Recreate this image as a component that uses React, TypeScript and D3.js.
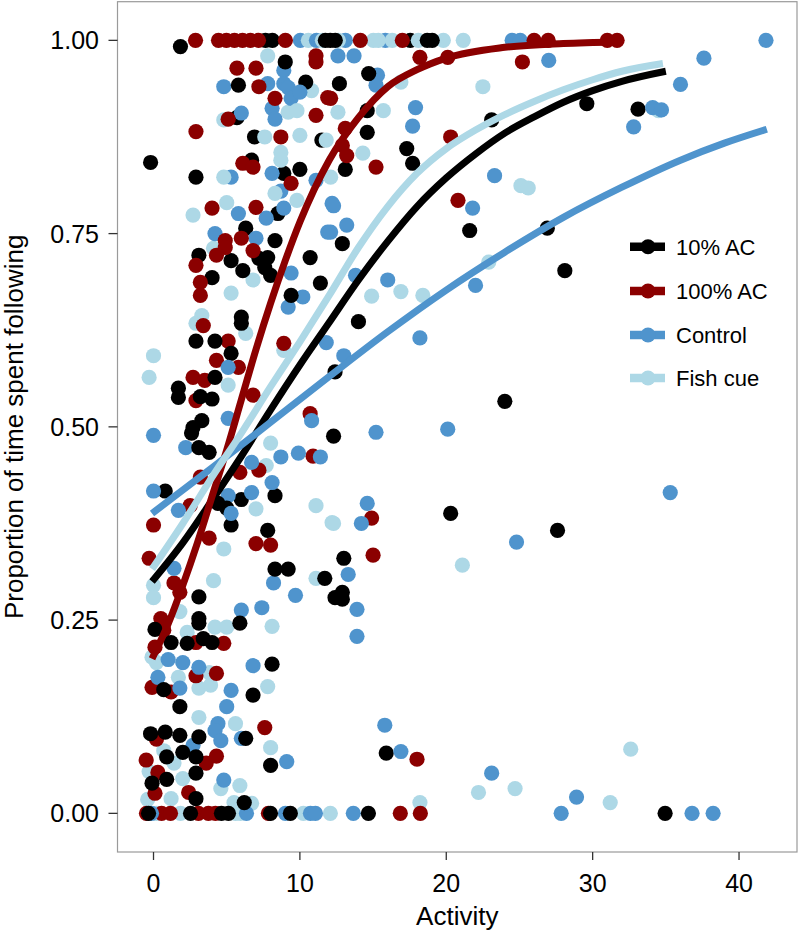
import * as d3 from 'd3';

// groups, in legend order
const groups = ['10% AC', '100% AC', 'Control', 'Fish cue'];
const groupColors = ['#000000', '#8B0000', '#4F94CD', '#ADD8E6'];

// [activity, proportion]
const ac10Points: [number, number][] = [
  [1.84, 0.992], [7.65, 1], [8.12, 1], [11.74, 1], [12.42, 1], [12.08, 1], [17.54, 1], [18.7, 1], [19.04, 1],
  [9.0, 0.972], [5.8, 0.942], [10.4, 0.946], [5.7, 0.9], [6.9, 0.875], [11.5, 0.871], [-0.2, 0.842], [6.7, 0.845],
  [2.9, 0.823], [8.9, 0.828], [10.0, 0.833], [8.5, 0.776], [6.3, 0.757], [8.3, 0.741], [3.1, 0.722], [5.3, 0.715],
  [7.2, 0.718], [7.8, 0.719], [7.6, 0.706], [8.0, 0.696], [10.7, 0.719], [6.1, 0.702], [4.0, 0.693], [11.4, 0.686],
  [9.4, 0.67], [6.0, 0.642],
  [12.7, 0.944], [14.7, 0.957], [14.6, 0.909], [23.1, 0.897], [14.6, 0.881], [17.3, 0.86], [17.7, 0.841], [13.1, 0.833],
  [21.6, 0.754], [12.9, 0.737], [26.9, 0.757], [28.1, 0.702], [14.0, 0.636], [12.4, 0.571], [24.0, 0.533], [12.3, 0.488],
  [29.6, 0.918], [33.1, 0.911],
  [6.0, 0.634], [2.9, 0.611], [4.2, 0.611], [5.3, 0.595], [4.2, 0.564], [1.7, 0.55], [1.7, 0.538], [3.2, 0.539],
  [4.0, 0.536], [3.3, 0.508], [2.7, 0.499], [2.6, 0.492], [3.1, 0.473], [3.8, 0.467], [8.3, 0.411], [6.0, 0.406],
  [0.8, 0.417], [4.4, 0.401], [5.0, 0.395], [5.3, 0.373], [7.8, 0.366], [8.3, 0.316], [9.2, 0.316], [11.7, 0.304],
  [12.4, 0.279], [3.1, 0.28], [3.1, 0.252],
  [12.9, 0.286], [12.9, 0.277], [13.0, 0.33], [20.3, 0.388], [27.6, 0.366], [15.9, 0.078],
  [0.1, 0.238], [3.1, 0.246], [5.9, 0.246], [1.2, 0.221], [2.3, 0.22], [3.4, 0.226], [4.0, 0.221], [8.1, 0.193],
  [0.7, 0.16], [6.8, 0.153], [1.8, 0.138], [-0.2, 0.103], [0.8, 0.105], [1.8, 0.101], [3.1, 0.099], [6.3, 0.097],
  [2.0, 0.079], [0.9, 0.073], [2.9, 0.073], [2.9, 0.052], [8.0, 0.062], [-0.1, 0.039], [0.9, 0.044], [2.9, 0.019],
  [6.2, 0.014],
  [-0.34, 0], [2.53, 0], [4.64, 0], [5.12, 0], [7.99, 0], [9.35, 0], [14.68, 0], [34.95, 0],
];

const ac100Points: [number, number][] = [
  [2.87, 1], [4.44, 1], [4.98, 1], [5.53, 1], [6.08, 1], [6.62, 1], [7.17, 1], [9.01, 1], [14.13, 1], [17.0, 1],
  [26.0, 1], [26.96, 1], [31.0, 1], [31.67, 1],
  [11.1, 0.98], [11.1, 0.972], [5.7, 0.964], [7.0, 0.964], [7.2, 0.94], [8.3, 0.925], [11.9, 0.926], [11.1, 0.903],
  [5.1, 0.898], [2.9, 0.882], [8.7, 0.875], [6.1, 0.841], [6.8, 0.836], [9.4, 0.815], [4.0, 0.783], [7.0, 0.784],
  [4.9, 0.741], [4.9, 0.732], [6.0, 0.744], [2.9, 0.709], [4.3, 0.722], [6.8, 0.728], [3.2, 0.687], [3.2, 0.67],
  [18.2, 0.978], [20.1, 0.978], [25.2, 0.972], [12.1, 0.925], [13.1, 0.886], [20.3, 0.875], [12.9, 0.864],
  [13.2, 0.851], [15.2, 0.836], [20.8, 0.793],
  [3.4, 0.631], [5.1, 0.611], [8.9, 0.608], [4.3, 0.586], [5.8, 0.577], [2.7, 0.564], [3.5, 0.56], [2.9, 0.534],
  [6.8, 0.541], [10.7, 0.517], [10.9, 0.462], [5.9, 0.441], [7.2, 0.444], [3.2, 0.435], [2.5, 0.398], [0.0, 0.373],
  [7.0, 0.349], [8.0, 0.347], [3.8, 0.356], [-0.3, 0.33], [1.4, 0.298], [1.8, 0.286], [0.5, 0.252],
  [14.9, 0.382], [15.0, 0.334], [18.0, 0.07],
  [0.7, 0.237], [2.9, 0.221], [4.8, 0.22], [0.1, 0.215], [2.9, 0.178], [4.3, 0.181], [-0.1, 0.163], [1.2, 0.157],
  [7.6, 0.111], [0.2, 0.096], [-0.5, 0.069], [3.6, 0.065], [4.3, 0.074], [0.3, 0.053], [0.1, 0.026], [2.4, 0.027],
  [-0.48, 0], [0.55, 0], [1.16, 0], [3.07, 0], [3.75, 0], [4.23, 0], [7.85, 0], [16.86, 0], [18.23, 0],
];

const controlPoints: [number, number][] = [
  [10.03, 1], [11.13, 1], [13.11, 1], [15.84, 1], [24.5, 1], [25.05, 1], [41.84, 1],
  [8.9, 0.961], [4.8, 0.94], [7.8, 0.944], [8.9, 0.944], [9.2, 0.939], [9.4, 0.925], [10.0, 0.933], [8.1, 0.912],
  [8.3, 0.898], [6.0, 0.906], [5.3, 0.823], [8.1, 0.828], [8.7, 0.805], [11.1, 0.819], [12.2, 0.789], [5.8, 0.776],
  [7.7, 0.77], [8.9, 0.783], [4.2, 0.75], [7.0, 0.744], [11.9, 0.752], [9.4, 0.699], [10.2, 0.668], [9.2, 0.655],
  [12.6, 0.98], [13.7, 0.98], [27.0, 0.974], [15.3, 0.955], [15.2, 0.942], [17.9, 0.913], [17.7, 0.889],
  [23.3, 0.825], [21.8, 0.783], [12.3, 0.786], [13.2, 0.761], [12.1, 0.752], [22.0, 0.683], [16.0, 0.69],
  [13.8, 0.696], [18.2, 0.615], [13.0, 0.592], [15.2, 0.493], [20.1, 0.497],
  [37.6, 0.977], [36.0, 0.943], [34.1, 0.913], [34.7, 0.91], [32.8, 0.888], [35.3, 0.415], [28.9, 0.021],
  [11.8, 0.609], [5.1, 0.577], [5.1, 0.511], [10.8, 0.508], [0.0, 0.489], [2.2, 0.473], [8.7, 0.461], [9.9, 0.466],
  [11.4, 0.461], [6.7, 0.454], [8.1, 0.428], [6.7, 0.415], [5.1, 0.411], [0.0, 0.417], [1.7, 0.392], [5.3, 0.388],
  [8.2, 0.298], [9.7, 0.282], [1.4, 0.317], [6.0, 0.263], [7.4, 0.266],
  [14.6, 0.401], [14.2, 0.375], [24.8, 0.351], [13.3, 0.309], [13.9, 0.264], [13.9, 0.229], [15.8, 0.114],
  [16.9, 0.08], [23.1, 0.052],
  [1.0, 0.199], [2.0, 0.195], [3.1, 0.189], [6.8, 0.191], [0.3, 0.176], [1.8, 0.162], [5.3, 0.159], [5.0, 0.138],
  [4.4, 0.116], [4.2, 0.107], [4.6, 0.094], [6.0, 0.097], [2.7, 0.088], [9.1, 0.067], [4.8, 0.043],
  [-0.14, 0], [6.35, 0], [9.01, 0], [10.72, 0], [11.06, 0], [13.65, 0], [27.85, 0], [36.79, 0], [38.23, 0],
];

const fishCuePoints: [number, number][] = [
  [10.58, 1], [11.54, 1], [12.63, 1], [15.02, 1], [15.36, 1], [16.31, 1], [18.09, 1], [19.8, 1], [21.16, 1],
  [7.8, 0.98], [10.8, 0.935], [9.2, 0.907], [9.8, 0.909], [4.8, 0.897], [7.6, 0.875], [10.0, 0.877], [11.8, 0.871],
  [8.7, 0.855], [8.7, 0.845], [4.8, 0.823], [8.3, 0.802], [9.8, 0.793], [5.0, 0.79], [2.7, 0.774], [4.1, 0.731],
  [6.8, 0.69], [5.3, 0.673], [3.3, 0.644],
  [16.9, 0.946], [22.5, 0.94], [12.6, 0.907], [15.7, 0.909], [14.3, 0.854], [25.1, 0.812], [25.6, 0.809],
  [22.9, 0.713], [14.9, 0.669], [16.9, 0.675], [18.4, 0.67], [12.1, 0.823],
  [34.5, 0.909], [32.6, 0.083], [31.2, 0.014],
  [2.9, 0.634], [6.3, 0.621], [8.9, 0.599], [0.0, 0.592], [-0.3, 0.564], [5.1, 0.554], [8.0, 0.479], [7.7, 0.45],
  [7.0, 0.394], [4.8, 0.342], [11.1, 0.398], [12.2, 0.376], [4.1, 0.301], [11.1, 0.304], [0.0, 0.295],
  [0.0, 0.279], [1.8, 0.261],
  [12.3, 0.375], [21.1, 0.321], [22.2, 0.027], [24.7, 0.032], [18.2, 0.014],
  [4.2, 0.241], [5.0, 0.241], [8.1, 0.242], [2.3, 0.234], [-0.1, 0.202], [0.2, 0.195], [3.8, 0.182], [1.7, 0.176],
  [3.1, 0.162], [3.9, 0.166], [7.8, 0.164], [3.1, 0.124], [5.6, 0.116], [8.0, 0.085], [0.7, 0.081], [1.4, 0.065],
  [-0.3, 0.054], [2.0, 0.045], [4.6, 0.032], [5.9, 0.036], [1.2, 0.019], [-0.4, 0.018], [5.5, 0.014], [6.7, 0.013],
  [0.2, 0], [1.84, 0], [5.6, 0], [5.94, 0], [10.24, 0], [12.08, 0],
];

// fitted curves
const ac10Curve: [number, number][] = [
  [-0.1, 0.3], [2, 0.35], [4, 0.405], [6, 0.462], [8, 0.522], [10, 0.58], [12, 0.635], [14, 0.69], [16, 0.74],
  [18, 0.785], [20, 0.822], [22, 0.853], [24, 0.88], [26, 0.901], [28, 0.92], [30, 0.935], [32, 0.947], [35, 0.96],
];
const ac100Curve: [number, number][] = [
  [-0.1, 0.2], [1, 0.245], [2, 0.295], [3, 0.35], [4, 0.41], [5, 0.47], [6, 0.535], [7, 0.6], [8, 0.66],
  [9, 0.715], [10, 0.765], [12, 0.845], [14, 0.9], [16, 0.94], [18, 0.962], [20, 0.977], [24, 0.991],
  [28, 0.996], [31.7, 0.998],
];
const controlCurve: [number, number][] = [
  [-0.1, 0.388], [4, 0.447], [8, 0.506], [12, 0.565], [16, 0.623], [20, 0.677], [24, 0.726], [28, 0.771],
  [32, 0.81], [36, 0.845], [39, 0.867], [41.9, 0.885],
];
const fishCueCurve: [number, number][] = [
  [-0.1, 0.316], [2, 0.375], [4, 0.435], [6, 0.492], [8, 0.552], [10, 0.61], [12, 0.67], [14, 0.732], [16, 0.785],
  [18, 0.828], [20, 0.86], [22, 0.884], [24, 0.904], [26, 0.921], [28, 0.936], [30, 0.949], [32, 0.96], [34.8, 0.97],
];

const xTicks = [0, 10, 20, 30, 40];
const yTicks = [0, 0.25, 0.5, 0.75, 1];

const W = 799;
const H = 934;
const FONT = 'Liberation Sans, Arial, Helvetica, sans-serif';

export default function App() {
  const left = 117.5;
  const right = 797;
  const top = 1.7;
  const bottom = 852;

  const x = d3.scaleLinear().domain([-2.46, 43.96]).range([left, right]);
  const y = d3.scaleLinear().domain([-0.05, 1.05]).range([bottom, top]);

  const pointSets = [ac10Points, ac100Points, controlPoints, fishCuePoints];
  const curves = [ac10Curve, ac100Curve, controlCurve, fishCueCurve];

  // interleave groups so colours overlap the way ggplot mixes them
  const maxLen = d3.max(pointSets, (p) => p.length) ?? 0;
  const mixed: { px: number; py: number; g: number }[] = [];
  for (let i = 0; i < maxLen; i++) {
    pointSets.forEach((set, g) => {
      if (i < set.length) mixed.push({ px: set[i][0], py: set[i][1], g });
    });
  }

  const line = d3
    .line<[number, number]>()
    .x((d) => x(d[0]))
    .y((d) => y(d[1]))
    .curve(d3.curveMonotoneX);

  const legendRows = [246.7, 291, 335, 378];

  return (
    <svg
      width={W}
      height={H}
      style={{ position: 'absolute', left: 0, top: 0, background: '#fff' }}
      fontFamily={FONT}
    >
      <rect x={0} y={0} width={W} height={H} fill="#fff" />

      {/* points */}
      <g>
        {mixed.map((d, i) => (
          <circle key={i} cx={x(d.px)} cy={y(d.py)} r={7.6} fill={groupColors[d.g]} />
        ))}
      </g>

      {/* fitted curves */}
      <g fill="none" strokeWidth={7} strokeLinecap="butt">
        {curves.map((c, g) => (
          <path key={g} d={line(c) ?? ''} stroke={groupColors[g]} />
        ))}
      </g>

      {/* panel border */}
      <rect
        x={left}
        y={top}
        width={right - left}
        height={bottom - top}
        fill="none"
        stroke="#9a9a9a"
        strokeWidth={1.2}
      />

      {/* x axis */}
      <g>
        {xTicks.map((t) => (
          <g key={t} transform={`translate(${x(t)},0)`}>
            <line y1={bottom} y2={bottom + 8} stroke="#333" strokeWidth={1.3} />
            <text y={892} textAnchor="middle" fontSize={25} fill="#000">
              {t}
            </text>
          </g>
        ))}
        <text x={(left + right) / 2} y={925} textAnchor="middle" fontSize={26} fill="#000">
          Activity
        </text>
      </g>

      {/* y axis */}
      <g>
        {yTicks.map((t) => (
          <g key={t} transform={`translate(0,${y(t)})`}>
            <line x1={left - 9} x2={left} stroke="#333" strokeWidth={1.3} />
            <text x={99} dy="0.36em" textAnchor="end" fontSize={25} fill="#000">
              {d3.format('.2f')(t)}
            </text>
          </g>
        ))}
        <text
          transform={`translate(23,${(top + bottom) / 2}) rotate(-90)`}
          textAnchor="middle"
          fontSize={26}
          fill="#000"
        >
          Proportion of time spent following
        </text>
      </g>

      {/* legend */}
      <g>
        {groups.map((name, g) => (
          <g key={name} transform={`translate(0,${legendRows[g]})`}>
            <line x1={630} x2={665} stroke={groupColors[g]} strokeWidth={8.5} />
            <circle cx={648} cy={0} r={7.5} fill={groupColors[g]} />
            <text x={676} dy="0.36em" fontSize={22} fill="#000">
              {name}
            </text>
          </g>
        ))}
      </g>
    </svg>
  );
}
